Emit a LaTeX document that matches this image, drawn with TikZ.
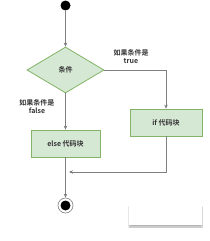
\documentclass[tikz,border=0pt]{standalone}
\usepackage{fontspec}
\setmainfont{Liberation Sans}
\newfontfamily\cjk{Noto Sans CJK SC}[BoldFont={* Bold}]
\usetikzlibrary{shapes.geometric,arrows.meta,shadows.blur}
\definecolor{boxfill}{HTML}{D5E8D4}
\definecolor{boxline}{HTML}{82B366}
\definecolor{linec}{HTML}{808080}
\tikzset{
  flow/.style={draw=linec,line width=0.8pt,-{Stealth[length=4pt,width=3.5pt,fill=black]}},
  gbox/.style={draw=boxline,fill=boxfill,line width=0.8pt,inner sep=0pt},
  lbl/.style={font=\fontsize{7}{8.5}\selectfont\cjk\bfseries,text=black!80,align=center,inner sep=0pt},
}
\begin{document}
\begin{tikzpicture}[x=1pt,y=-1pt]
\useasboundingbox (0,0) rectangle (209,241);
% faint shadowed panel at bottom right
\fill[white,blur shadow={shadow xshift=0pt,shadow yshift=-2pt,shadow blur radius=1.2pt,shadow blur steps=6,shadow opacity=30}] (129,205) rectangle (202,225);
\node[circle,fill=black,minimum size=10pt,inner sep=0pt] (start) at (65.5,5.5) {};
\node[gbox,diamond,minimum width=77pt,minimum height=46pt,aspect=1.67] (cond) at (65.5,70) {};
\node[lbl] at (cond) {条件};
\node[gbox,rectangle,minimum width=72pt,minimum height=27pt,font=\fontsize{7}{8.5}\selectfont\cjk\bfseries,text=black!80] (ifb) at (166,122.5) {if 代码块};
\node[gbox,rectangle,minimum width=69pt,minimum height=27pt,font=\fontsize{7}{8.5}\selectfont\cjk\bfseries,text=black!80] (elseb) at (65.5,143.5) {else 代码块};
\node[circle,draw=linec,line width=0.6pt,minimum size=15pt,inner sep=0pt] (endo) at (65.5,205.5) {};
\node[circle,fill=black,minimum size=10pt,inner sep=0pt] (endi) at (endo) {};
\coordinate (merge) at (69,172);
\node[lbl] (tl) at (131,56.5) {如果条件是\\true};
\node[lbl] (fl) at (37,106.5) {如果条件是\\false};
\draw[flow] (start) -- (cond.north);
\draw[flow] (cond.east) -| (ifb.north);
\draw[flow] (cond.south) -- (elseb.north);
\draw[flow] (elseb.south) -- (endo.north);
\draw[flow] (ifb.south) |- (merge);
\end{tikzpicture}
\end{document}
